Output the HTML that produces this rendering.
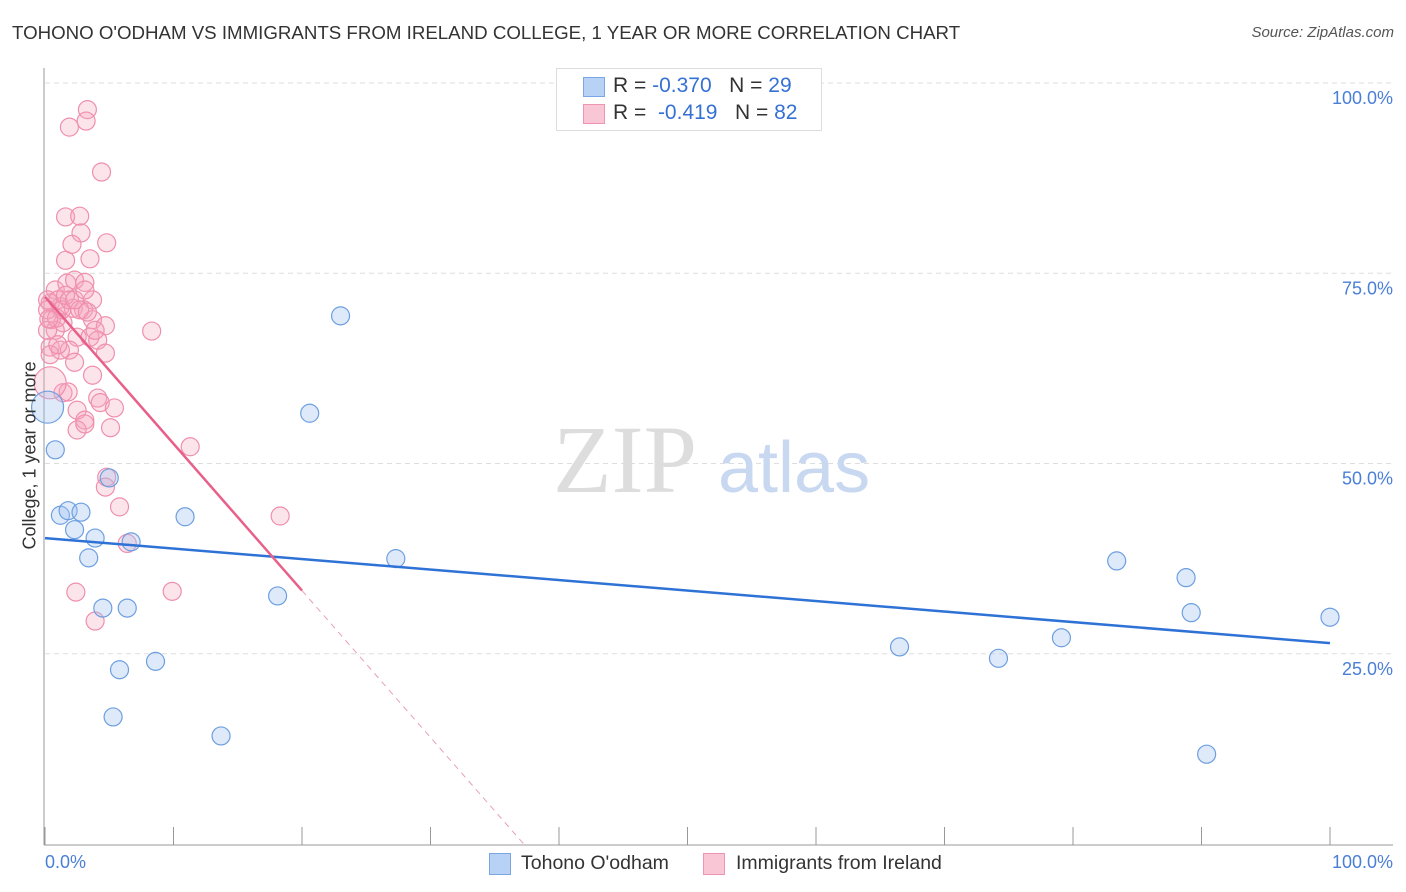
<!DOCTYPE html>
<html><head><meta charset="utf-8"><style>
body{margin:0;background:#fff;font-family:"Liberation Sans",sans-serif;}
#wrap{position:relative;width:1406px;height:892px;overflow:hidden;}
.t{position:absolute;white-space:nowrap;}
</style></head><body>
<div id="wrap">
<div class="t" style="left:12px;top:22px;font-size:18.7px;color:#333">TOHONO O'ODHAM VS IMMIGRANTS FROM IRELAND COLLEGE, 1 YEAR OR MORE CORRELATION CHART</div>
<div class="t" style="right:12px;top:24px;font-size:15px;color:#555;font-style:italic">Source: ZipAtlas.com</div>
<svg id="svg" width="1406" height="892" style="position:absolute;left:0;top:0"></svg>
</div>
<script>
const yTicks=[25,50,75,100];
const yTickLabels=["25.0%","50.0%","75.0%","100.0%"];
const blueX=[0.2,0.8,1.2,1.8,2.8,2.3,3.4,3.9,5.0,6.7,4.5,6.4,5.8,8.6,5.3,10.9,13.7,18.1,20.6,23.0,27.3,66.5,74.2,79.1,83.4,88.8,89.2,90.4,100];
const blueY=[57.4,51.8,43.2,43.8,43.6,41.3,37.6,40.2,48.1,39.7,31.0,31.0,22.9,24.0,16.7,43.0,14.2,32.6,56.6,69.4,37.5,25.9,24.4,27.1,37.2,35.0,30.4,11.8,29.8];
const pinkX=[3.3,3.2,1.9,4.4,1.6,2.7,2.8,2.1,4.8,1.6,3.5,0.8,1.7,2.3,3.1,3.7,0.4,1.2,2.2,3.0,0.5,1.4,3.7,4.7,0.8,2.5,3.5,4.1,0.4,1.2,1.9,4.7,2.3,3.7,1.4,1.8,4.1,4.3,5.4,2.5,3.1,2.5,5.1,8.3,11.3,0.2,0.2,1.0,1.3,1.9,2.7,0.2,0.9,1.6,3.3,0.4,1.0,2.3,3.1,3.9,18.3,9.9,2.4,3.9,6.4,4.8,4.7,5.8,3.1,0.4,0.3];
const pinkY=[96.5,95.0,94.2,88.3,82.4,82.5,80.3,78.8,79.0,76.7,76.9,72.8,73.7,74.1,73.8,71.5,71.1,70.6,70.4,70.2,68.9,68.5,68.9,68.1,67.5,66.6,66.6,66.2,65.3,64.9,64.9,64.5,63.3,61.6,59.3,59.4,58.6,58.0,57.3,57.0,55.7,54.4,54.7,67.4,52.2,71.5,70.2,71.5,70.2,71.5,70.2,67.5,69.1,72.1,69.9,64.3,65.6,71.5,72.8,67.5,43.1,33.2,33.1,29.3,39.5,48.2,46.9,44.3,55.2,60.6,69.0];
const blueLine=[40.2,26.4];
const pinkLine=[71.9,-1.93];
const ns="http://www.w3.org/2000/svg",svg=document.getElementById('svg');
const X=v=>45+v*12.85, Y=v=>844-v*7.61;
function mk(t,a){const e=document.createElementNS(ns,t);for(const k in a)e.setAttribute(k,a[k]);svg.appendChild(e);return e;}
yTicks.forEach((v,i)=>{
 const g=mk('line',{x1:45,x2:1393,y1:Y(v),y2:Y(v),stroke:'#ddd','stroke-dasharray':'5,4'});
 
 
 const t=mk('text',{x:1393,y:Y(v)+21,'text-anchor':'end','font-size':18,fill:'#4a7fd6'});t.textContent=yTickLabels[i];
 
 
});
mk('line',{x1:44,x2:44,y1:68,y2:845,stroke:'#999'});
mk('line',{x1:44,x2:1393,y1:845,y2:845,stroke:'#999'});
for(let i=0;i<=10;i++){const tk=mk('line',{x1:X(i*10),x2:X(i*10),y1:827,y2:845,stroke:'#999'});
 
 }
let w=mk('text',{x:553,y:492,'font-size':96,fill:'#ddd','font-family':'Liberation Serif'});w.textContent='ZIP';
w=mk('text',{x:718,y:492,'font-size':72,fill:'#c8d8f0'});w.textContent='atlas';
function dots(xs,ys,fill,stroke,name,bigIdx){xs.forEach((x,i)=>{const c=mk('circle',{cx:X(x),cy:Y(ys[i]),r:(i===bigIdx?16:9),fill:fill,stroke:stroke,'stroke-width':1.2});
 
 });}
dots(pinkX,pinkY,'rgba(245,165,190,0.3)','#ef8fae','pink-point',69);
dots(blueX,blueY,'rgba(160,195,240,0.35)','#6d9fe0','blue-point',0);
let l=mk('line',{x1:X(0),y1:Y(blueLine[0]),x2:X(100),y2:Y(blueLine[1]),stroke:'#2f72d6','stroke-width':2.5});


l=mk('line',{x1:X(0),y1:Y(pinkLine[0]),x2:X(20),y2:Y(pinkLine[0]+pinkLine[1]*20),stroke:'#e8608a','stroke-width':2.5});


const xe=-pinkLine[0]/pinkLine[1];
l=mk('line',{x1:X(20),y1:Y(pinkLine[0]+pinkLine[1]*20),x2:X(xe),y2:Y(0),stroke:'#e8a0b6','stroke-width':1,'stroke-dasharray':'6,5'});


</script>
<div class="t" style="left:45px;top:852px;font-size:18px;color:#4a7fd6">0.0%</div>
<div class="t" style="right:13px;top:852px;font-size:18px;color:#4a7fd6">100.0%</div>
<div class="t" style="left:-65px;top:445px;font-size:18px;color:#333;transform:rotate(-90deg);width:190px;text-align:center">College, 1 year or more</div>
<div style="position:absolute;left:556px;top:68px;width:264px;height:61px;border:1px solid #ddd;background:#fff">
 <div style="position:absolute;left:26px;top:8px;width:20px;height:18px;background:#b8d2f5;border:1px solid #7aa6e3"></div>
 <div class="t" style="left:56px;top:5px;font-size:21px;color:#333">R = <span style="color:#3571d4">-0.370</span> &nbsp;&nbsp;N = <span style="color:#3571d4">29</span></div>
 <div style="position:absolute;left:26px;top:35px;width:20px;height:18px;background:#f9c6d6;border:1px solid #ee95b3"></div>
 <div class="t" style="left:56px;top:32px;font-size:21px;color:#333">R = &nbsp;<span style="color:#3571d4">-0.419</span> &nbsp;&nbsp;N = <span style="color:#3571d4">82</span></div>
</div>
<div style="position:absolute;left:489px;top:853px;width:20px;height:20px;background:#b8d2f5;border:1px solid #7aa6e3"></div>
<div class="t" style="left:521px;top:852px;font-size:19.5px;color:#333">Tohono O'odham</div>
<div style="position:absolute;left:703px;top:853px;width:20px;height:20px;background:#f9c6d6;border:1px solid #ee95b3"></div>
<div class="t" style="left:736px;top:852px;font-size:19.5px;color:#333">Immigrants from Ireland</div>
</body></html>
